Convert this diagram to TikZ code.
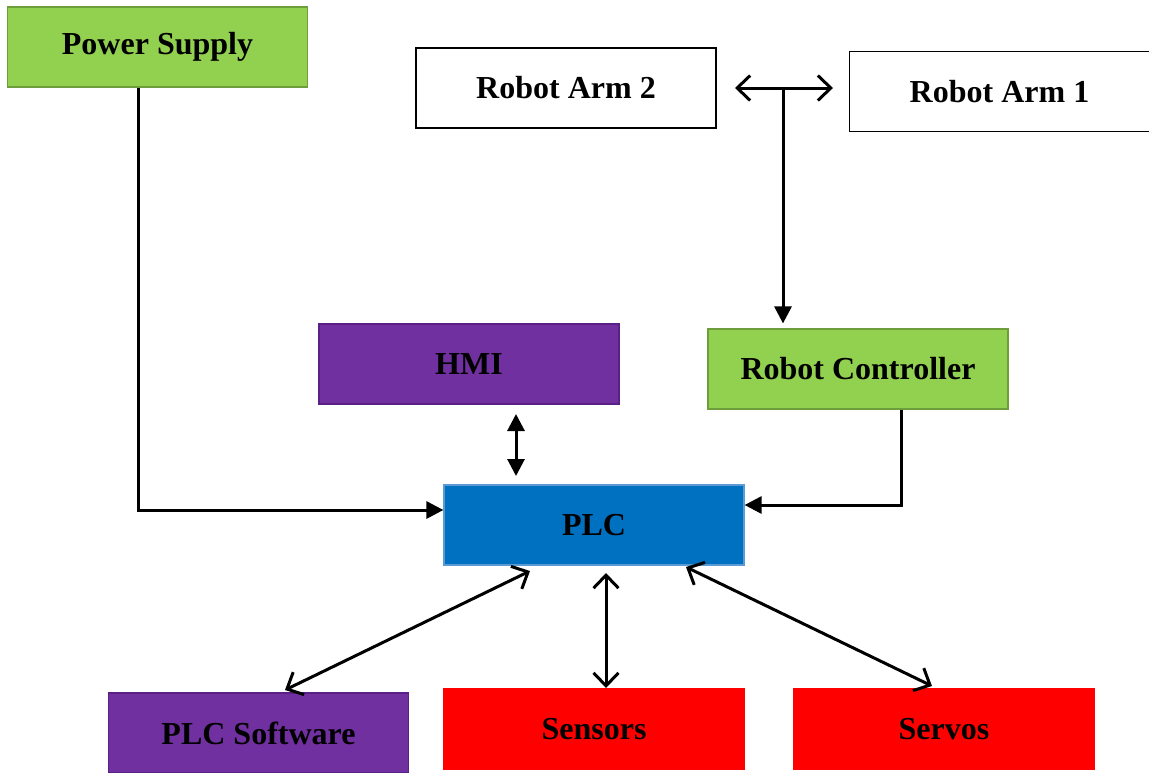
\documentclass[tikz,border=0pt]{standalone}
\usepackage{fontspec}
\setmainfont{Liberation Serif}
\usetikzlibrary{arrows.meta}
\definecolor{psgreen}{HTML}{92D050}
\definecolor{psgreenline}{HTML}{6E9E3C}
\definecolor{hmipurple}{HTML}{7030A0}
\definecolor{hmipurpleline}{HTML}{5A2086}
\definecolor{plcblue}{HTML}{0070C0}
\definecolor{plcblueline}{HTML}{5B9BD5}
\definecolor{iored}{HTML}{FF0000}
\tikzset{
  block/.style={draw, line width=1.2pt, minimum width=300pt, minimum height=80pt,
    inner sep=0pt, font=\fontsize{32}{36}\selectfont\bfseries},
  greenbox/.style={block, fill=psgreen, draw=psgreenline},
  whitebox/.style={block, fill=white, draw=black},
  purplebox/.style={block, fill=hmipurple, draw=hmipurpleline},
  bluebox/.style={block, fill=plcblue, draw=plcblueline},
  redbox/.style={block, fill=iored, draw=iored},
  link/.style={line width=3pt, black},
  solidtip/.style={-{Triangle[length=17pt,width=17pt]}},
  solidboth/.style={{Triangle[length=17pt,width=17pt]}-{Triangle[length=17pt,width=17pt]}},
  openboth/.style={{Straight Barb[length=13pt,width=25pt,line width=3pt]}-{Straight Barb[length=13pt,width=25pt,line width=3pt]}}
}
\begin{document}
\begin{tikzpicture}[x=1pt,y=-1pt]
\useasboundingbox (0,0) rectangle (1149,772);

% blocks
\node[greenbox]  (ps)   at (157.5,47)  {Power Supply};
\node[whitebox]  (arm2) at (566,88)    {Robot Arm 2};
\node[whitebox]  (arm1) at (999.5,91.5){Robot Arm 1};
\node[purplebox] (hmi)  at (469,364)   {HMI};
\node[greenbox]  (rc)   at (858,369)   {Robot Controller};
\node[bluebox]   (plc)  at (594,525)   {PLC};
\node[purplebox] (soft) at (258.5,733) {PLC Software};
\node[redbox]    (sens) at (594,729)   {Sensors};
\node[redbox]    (serv) at (944,729)   {Servos};

% helper points for the wiring
\coordinate (pscorner) at (138,510);
\coordinate (armjoin)  at (783,88);
\coordinate (rccorner) at (901,505);
\coordinate (armL)     at (735,88);
\coordinate (armR)     at (833,88);
\coordinate (hmiA)     at (516,414);
\coordinate (hmiB)     at (516,476);
\coordinate (sensA)    at (606,573);
\coordinate (sensB)    at (606,688);
\coordinate (softA)    at (530,571);
\coordinate (softB)    at (285,690);
\coordinate (servA)    at (686,567);
\coordinate (servB)    at (932,686);

% power supply feed into the PLC
\draw[link, solidtip] (ps.south -| pscorner) -- (pscorner) -- (pscorner -| plc.west);

% robot arms and their controller
\draw[link, openboth] (armL) -- (armR);
\draw[link, solidtip, shorten >=5pt] (armjoin) -- (armjoin |- rc.north);
\draw[link, solidtip] (rc.south -| rccorner) -- (rccorner) -- (rccorner -| plc.east);

% HMI link
\draw[link, solidboth] (hmiA) -- (hmiB);

% field side of the PLC
\draw[link, openboth] (softA) -- (softB);
\draw[link, openboth] (sensA) -- (sensB);
\draw[link, openboth] (servA) -- (servB);
\end{tikzpicture}
\end{document}
